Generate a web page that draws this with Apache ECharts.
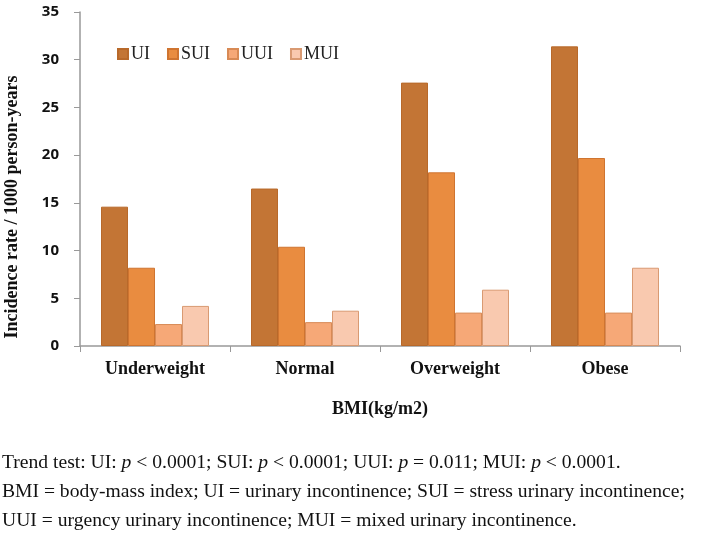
<!DOCTYPE html>
<html><head><meta charset="utf-8">
<script src="https://cdn.jsdelivr.net/npm/echarts@6/dist/echarts.min.js"></script>
<style>html,body{margin:0;padding:0;background:#fff}#c{width:709px;height:546px}</style>
</head><body><div id="c"></div>
<script>
const categories = ['Underweight', 'Normal', 'Overweight', 'Obese'];
const seriesNames = ['UI', 'SUI', 'UUI', 'MUI'];
const UI = [14.6, 16.5, 27.6, 31.4];
const SUI = [8.2, 10.4, 18.2, 19.7];
const UUI = [2.3, 2.5, 3.5, 3.5];
const MUI = [4.2, 3.7, 5.9, 8.2];
const yTicks = [0, 5, 10, 15, 20, 25, 30, 35];

const colors = ['#C37535', '#E98C40', '#F6A877', '#F9C9AF'];
const borders = ['#B8692A', '#CF7430', '#D88A55', '#D99A72'];
const values = [UI, SUI, UUI, MUI];
const serif = '"Liberation Serif", "Times New Roman", serif';
const fs = 19.6;

const chart = echarts.init(document.getElementById('c'));
chart.setOption({
  animation: false,
  grid: { left: 80, top: 12, width: 600, height: 334, containLabel: false, outerBoundsMode: 'none' },
  legend: {
    left: 112, top: 40, itemWidth: 10, itemHeight: 10, itemGap: 17,
    icon: 'rect',
    textStyle: { fontFamily: serif, fontSize: 18, color: '#222', padding: [0,0,0,-2] },
    data: seriesNames
  },
  xAxis: {
    type: 'category', data: categories,
    name: 'BMI(kg/m2)', nameLocation: 'middle', nameGap: 54,
    nameTextStyle: { fontFamily: serif, fontWeight: 'bold', fontSize: 18, color: '#111' },
    axisLine: { lineStyle: { color: '#999', width: 1.5 } },
    axisTick: { show: true, length: 6, lineStyle: { color: '#999' } },
    axisLabel: { fontFamily: serif, fontWeight: 'bold', fontSize: 18, color: '#111', margin: 14 }
  },
  yAxis: {
    type: 'value', min: 0, max: 35, interval: 5,
    axisLine: { show: true, lineStyle: { color: '#999', width: 1.5 } },
    axisTick: { show: true, length: 6, lineStyle: { color: '#999' } },
    splitLine: { show: false },
    axisLabel: { fontFamily: '"Open Sans", sans-serif', fontWeight: 'bold', fontSize: 15, color: '#111', margin: 21,
      formatter: v => yTicks.includes(v) ? String(v) : '' }
  },
  series: seriesNames.map((n, i) => ({
    name: n, type: 'bar', data: values[i],
    barGap: '0%', barCategoryGap: '28%',
    itemStyle: { color: colors[i], borderColor: borders[i], borderWidth: 1 }
  })),
  graphic: [
    { type: 'text', x: 12, y: 207, rotation: Math.PI / 2, style: {
      text: 'Incidence rate / 1000 person-years', font: 'bold 18px ' + serif, fill: '#111',
      align: 'center', verticalAlign: 'middle' } },
    { type: 'text', x: 2, y: 463, style: {
      verticalAlign: 'middle',
      rich: { n: { fontFamily: serif, fontSize: fs, fill: '#111' }, i: { fontFamily: serif, fontSize: fs, fontStyle: 'italic', fill: '#111' } },
      text: '{n|Trend test: UI: }{i|p}{n| < 0.0001; SUI: }{i|p}{n| < 0.0001; UUI: }{i|p}{n| = 0.011; MUI: }{i|p}{n| < 0.0001.}' } },
    { type: 'text', x: 2, y: 492, style: { text: 'BMI = body-mass index; UI = urinary incontinence; SUI = stress urinary incontinence;', font: fs + 'px ' + serif, fill: '#111', verticalAlign: 'middle' } },
    { type: 'text', x: 2, y: 521, style: { text: 'UUI = urgency urinary incontinence; MUI = mixed urinary incontinence.', font: fs + 'px ' + serif, fill: '#111', verticalAlign: 'middle' } }
  ]
});
</script></body></html>
